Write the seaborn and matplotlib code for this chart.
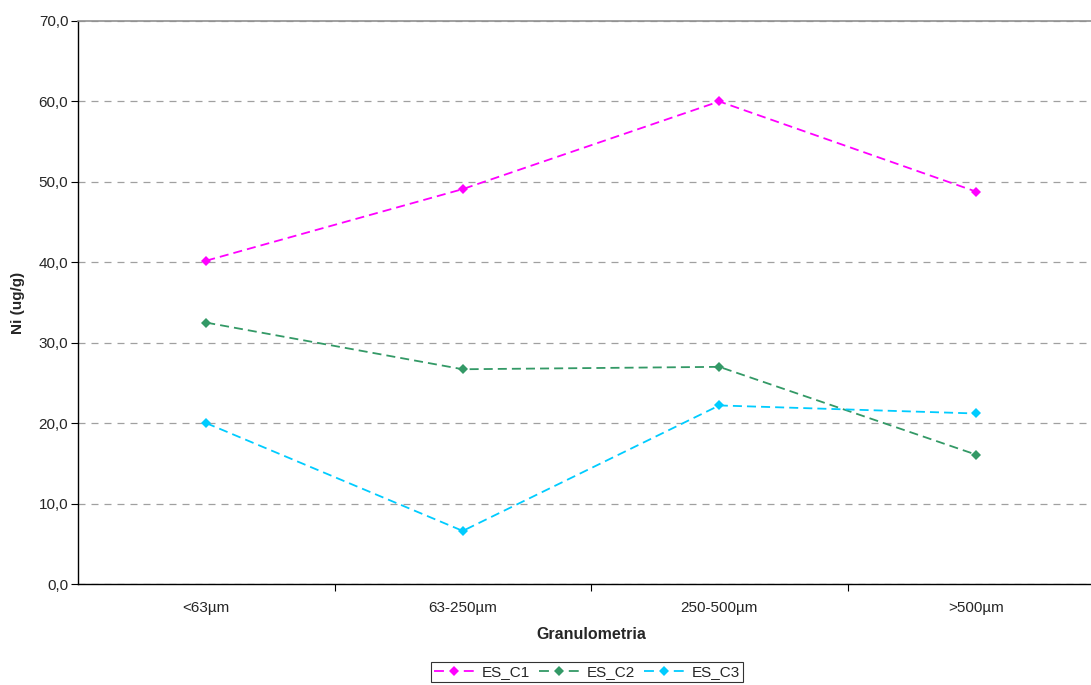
import pandas as pd
import matplotlib
matplotlib.use("Agg")
import matplotlib.pyplot as plt
import seaborn as sns
from matplotlib.ticker import FuncFormatter, FixedLocator

categorias = ["<63µm", "63-250µm", "250-500µm", ">500µm"]
es_c1 = [40.2, 49.1, 60.0, 48.8]
es_c2 = [32.5, 26.7, 27.0, 16.1]
es_c3 = [20.0, 6.6, 22.2, 21.2]
series = ["ES_C1", "ES_C2", "ES_C3"]
cores = ["#FF00FF", "#339966", "#00CCFF"]

df = pd.DataFrame({
    "Granulometria": categorias * 3,
    "x": list(range(len(categorias))) * 3,
    "valor": es_c1 + es_c2 + es_c3,
    "serie": [s for s in series for _ in categorias],
})

sns.set_style("white")
plt.rcParams["font.family"] = ["Liberation Sans", "DejaVu Sans"]

fig = plt.figure(figsize=(10.91, 6.85), dpi=100)
ax = fig.add_axes([78 / 1091, 101 / 685, 1026 / 1091, 563 / 685])

sns.lineplot(
    data=df, x="x", y="valor", hue="serie", style="serie",
    palette=cores, markers=["D", "D", "D"], dashes=[(5, 2.8)] * 3,
    markersize=5.5, markeredgewidth=0, linewidth=1.3, ax=ax, legend=True,
)

ax.set_xlim(-0.5, 3.5)
ax.set_ylim(0, 70)
ax.set_yticks(range(0, 71, 10))
ax.yaxis.set_major_formatter(FuncFormatter(lambda v, p: f"{v:.1f}".replace(".", ",")))
ax.set_xticks(range(len(categorias)))
ax.set_xticklabels(categorias)
ax.xaxis.set_minor_locator(FixedLocator([0.5, 1.5, 2.5]))
ax.tick_params(axis="x", which="major", length=0, pad=12.5, labelsize=11)
ax.tick_params(axis="x", which="minor", length=5, width=0.8, color="black", direction="out", bottom=True)
ax.tick_params(axis="y", length=5, width=0.8, color="black", direction="out", left=True, labelsize=11, pad=2)

ax.grid(axis="y", color="#A0A0A0", linestyle=(0, (5.6, 4.8)), linewidth=0.9)
ax.set_axisbelow(True)

for side in ["left", "bottom"]:
    ax.spines[side].set_color("black")
    ax.spines[side].set_linewidth(1.0)
ax.spines["top"].set_color("#909090")
ax.spines["top"].set_linewidth(1.2)
ax.spines["right"].set_visible(False)

ax.set_xlabel("Granulometria", fontsize=11.5, fontweight="bold", labelpad=8.5)
ax.set_ylabel("Ni (ug/g)", fontsize=11, fontweight="bold", labelpad=10)

handles, labels = ax.get_legend_handles_labels()
ax.legend(
    handles, labels, loc="center", bbox_to_anchor=(587 / 1091, 13 / 685),
    bbox_transform=fig.transFigure, ncol=3, frameon=True, fancybox=False,
    edgecolor="black", fontsize=11, handlelength=2.6, columnspacing=0.6,
    handletextpad=0.5, borderpad=0.2, borderaxespad=0,
)
leg = ax.get_legend()
leg.get_frame().set_linewidth(0.8)
# motivo "— ◆ —" nas amostras da legenda
for linha in leg.get_lines():
    linha.set_dashes((5.5, 11))

fig.savefig("out.png", dpi=100)
plt.close(fig)
